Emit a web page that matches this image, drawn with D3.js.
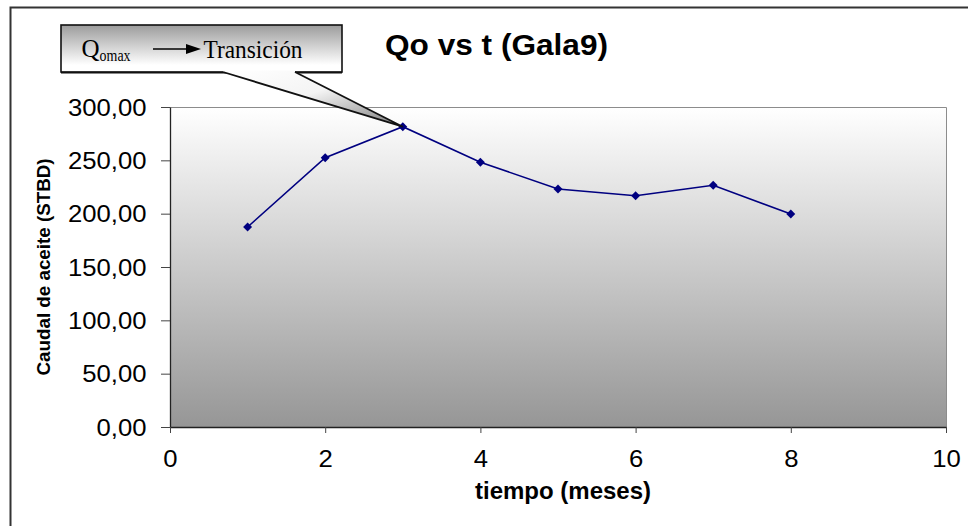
<!DOCTYPE html>
<html><head><meta charset="utf-8">
<script src="https://cdn.jsdelivr.net/npm/d3@7"></script>
<style>body{margin:0;background:#fff;} svg{display:block;}</style>
</head><body><svg id="c" width="968" height="526"></svg>
<script>
// ---- data ----
const months = [1, 2, 3, 4, 5, 6, 7, 8];
const qo = [187.5, 252.5, 281.5, 248.2, 223.1, 216.8, 226.6, 199.7];
const xTicks = [0, 2, 4, 6, 8, 10];
const yTicks = [0, 50, 100, 150, 200, 250, 300];
const chartTitle = "Qo vs t (Gala9)";
const xTitle = "tiempo (meses)";
const yTitle = "Caudal de aceite (STBD)";
const calloutQ = "Q";
const calloutSub = "omax";
const calloutTarget = "Transición";
const peakIndex = 2;

// ---- layout ----
const L = 170, R = 946, T = 107, B = 427;
const sans = "Arial, 'Liberation Sans', sans-serif";
const serif = "'Times New Roman', 'Liberation Serif', serif";
const svg = d3.select("#c");
const x = d3.scaleLinear().domain([0, 10]).range([L, R]);
const y = d3.scaleLinear().domain([0, 300]).range([B, T]);

const defs = svg.append("defs");
const g1 = defs.append("linearGradient").attr("id", "plotGrad").attr("x1", 0).attr("y1", 0).attr("x2", 0).attr("y2", 1);
g1.append("stop").attr("offset", 0).attr("stop-color", "#ffffff");
g1.append("stop").attr("offset", 1).attr("stop-color", "#969696");
const g2 = defs.append("linearGradient").attr("id", "boxGrad").attr("x1", 0).attr("y1", 0).attr("x2", 0).attr("y2", 1);
g2.append("stop").attr("offset", 0).attr("stop-color", "#9c9c9c");
g2.append("stop").attr("offset", 0.85).attr("stop-color", "#ffffff");
g2.append("stop").attr("offset", 1).attr("stop-color", "#ffffff");
const g3 = defs.append("linearGradient").attr("id", "ptrGrad").attr("x1", 0).attr("y1", 0).attr("x2", 1).attr("y2", 1);
g3.append("stop").attr("offset", 0).attr("stop-color", "#ffffff");
g3.append("stop").attr("offset", 0.45).attr("stop-color", "#f4f4f4");
g3.append("stop").attr("offset", 1).attr("stop-color", "#7a7a7a");

// outer chart border
svg.append("rect").attr("x", 10.5).attr("y", 7.5).attr("width", 1000).attr("height", 600)
  .attr("fill", "none").attr("stroke", "#333").attr("stroke-width", 2);

// plot area
svg.append("rect").attr("x", L).attr("y", T).attr("width", R - L).attr("height", B - T).attr("fill", "url(#plotGrad)");
svg.append("path").attr("d", `M${L},${T + 0.5}H${R + 0.5}V${B}`).attr("fill", "none").attr("stroke", "#8c8c8c").attr("stroke-width", 1);

// axes
const fmt = d => d3.format(".2f")(d).replace(".", ",");
const ya = svg.append("g").attr("transform", `translate(${L},0)`)
  .call(d3.axisLeft(y).tickValues(yTicks).tickSize(9).tickSizeOuter(0).tickFormat(fmt));
ya.select(".domain").attr("stroke", "#222").attr("stroke-width", 1.3);
ya.selectAll(".tick line").attr("stroke", "#444");
ya.selectAll(".tick text").attr("x", null).attr("dy", null).attr("y", 8.2)
  .attr("transform", "translate(-23.5,0) scale(1.07,1)")
  .style("font-family", sans).style("font-size", "24px").attr("fill", "#000");

const xa = svg.append("g").attr("transform", `translate(0,${B})`)
  .call(d3.axisBottom(x).tickValues(xTicks).tickSize(6).tickSizeOuter(0).tickFormat(d3.format("d")));
xa.select(".domain").attr("stroke", "#222").attr("stroke-width", 1.3);
xa.selectAll(".tick line").attr("stroke", "#444");
xa.selectAll(".tick text").attr("dy", null).attr("y", 40)
  .attr("transform", "scale(1.07,1)")
  .style("font-family", sans).style("font-size", "24px").attr("fill", "#000");

// axis titles
svg.append("text").attr("x", 563).attr("y", 499).attr("text-anchor", "middle")
  .style("font-family", sans).style("font-size", "24px").style("font-weight", "bold")
  .text(xTitle);
svg.append("text").attr("transform", `translate(50,${(T + B) / 2}) rotate(-90)`).attr("text-anchor", "middle")
  .style("font-family", sans).style("font-size", "19px").style("font-weight", "bold")
  .attr("textLength", 217).attr("lengthAdjust", "spacingAndGlyphs")
  .text(yTitle);

// title
svg.append("text").attr("x", 496.5).attr("y", 55).attr("text-anchor", "middle")
  .style("font-family", sans).style("font-size", "29px").style("font-weight", "bold")
  .attr("textLength", 223).attr("lengthAdjust", "spacingAndGlyphs")
  .text(chartTitle);

// series
const line = d3.line().x((d, i) => x(months[i])).y(d => y(d));
svg.append("path").datum(qo).attr("d", line).attr("fill", "none").attr("stroke", "#000080").attr("stroke-width", 1.6);
svg.selectAll(".mk").data(qo).enter().append("path").attr("class", "mk")
  .attr("d", d3.symbol(d3.symbolSquare, 40)())
  .attr("transform", (d, i) => `translate(${x(months[i])},${y(d)}) rotate(45)`)
  .attr("fill", "#000080");

// callout
const tip = [x(months[peakIndex]), y(qo[peakIndex])];
const bx = 61, by = 25, bw = 281, bh = 47;
const pl = 223, pr = 295;
svg.append("rect").attr("x", bx).attr("y", by).attr("width", bw).attr("height", bh)
  .attr("fill", "url(#boxGrad)").attr("stroke", "#111").attr("stroke-width", 1.6);
svg.append("line").attr("x1", bx).attr("x2", bx + bw).attr("y1", by + bh + 0.6).attr("y2", by + bh + 0.6)
  .attr("stroke", "#111").attr("stroke-width", 1.6);
svg.append("path").attr("d", `M${pl},${by + bh - 1.5}L${pr},${by + bh - 1.5}L${pr},${by + bh}L${tip[0]},${tip[1]}L${pl},${by + bh}Z`)
  .attr("fill", "url(#ptrGrad)");
svg.append("path").attr("d", `M${pl},${by + bh}L${tip[0]},${tip[1]}L${pr},${by + bh}`)
  .attr("fill", "none").attr("stroke", "#111").attr("stroke-width", 1.8).attr("stroke-linejoin", "miter");

const ct = svg.append("text").attr("x", 81.5).attr("y", 57).style("font-family", serif).style("font-size", "25px").attr("fill", "#000");
ct.append("tspan").text(calloutQ);
ct.append("tspan").attr("dy", 3.5).style("font-size", "16px").attr("textLength", 31).attr("lengthAdjust", "spacingAndGlyphs").text(calloutSub);
svg.append("line").attr("x1", 153).attr("x2", 190).attr("y1", 49).attr("y2", 49).attr("stroke", "#000").attr("stroke-width", 1.4);
svg.append("path").attr("d", "M186,44L201,49L186,54Z").attr("fill", "#000");
svg.append("text").attr("x", 203.5).attr("y", 57.5).style("font-family", serif).style("font-size", "25px")
  .attr("textLength", 99).attr("lengthAdjust", "spacingAndGlyphs").text(calloutTarget);
</script>
</body></html>
